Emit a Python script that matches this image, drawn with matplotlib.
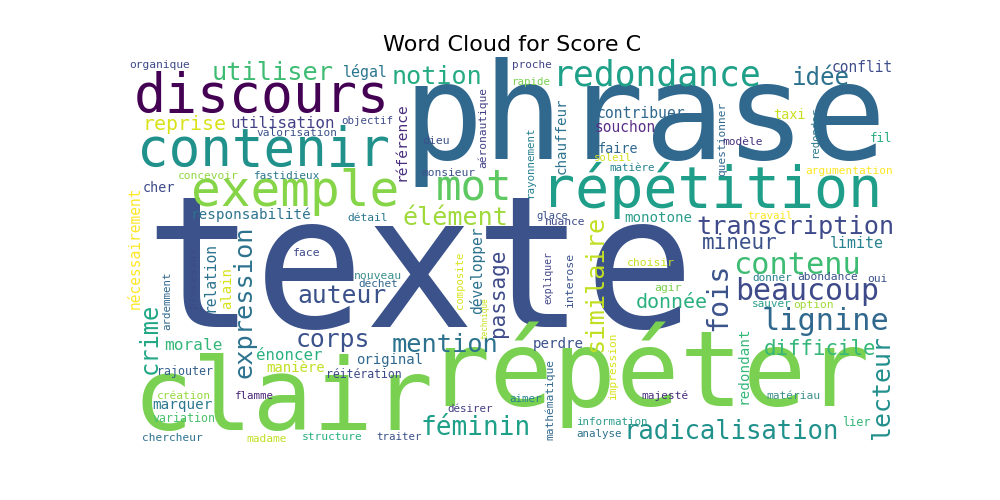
import matplotlib
matplotlib.use("Agg")
import matplotlib.pyplot as plt

# word cloud data: word and weight (text extent in pixels of the original render)
words = ["texte", "phrase", "répéter", "clair", "discours", "contenir", "exemple", "répétition",
         "mot", "redondance", "utiliser", "notion", "idée", "légal", "conflit", "organique",
         "reprise", "utilisation", "objectif", "valorisation", "référence", "dieu", "aéronautique",
         "monsieur", "concevoir", "fastidieux", "cher", "proche", "rapide", "chauffeur",
         "rayonnement", "contribuer", "souchon", "faire", "soleil", "matière", "questionner",
         "modèle", "taxi", "redonder", "fil", "argumentation",
         "responsabilité", "détail", "élément", "expression", "crime", "nécessairement",
         "ardemment", "processus", "relation", "alain", "face", "nouveau", "déchet", "auteur",
         "corps", "morale", "mention", "énoncer", "manière", "original", "rajouter",
         "réitération", "marquer", "création", "variation", "flamme", "chercheur", "madame",
         "structure", "traiter", "désirer", "féminin", "passage", "développer", "composite",
         "technique",
         "glace", "nuance", "monotone", "travail", "transcription", "mineur", "limite", "contenu",
         "choisir", "similaire", "fois", "beaucoup", "donnée", "donner", "abondance", "oui",
         "agir", "sauver", "option", "expliquer", "interose", "lignine", "perdre", "difficile",
         "lecteur", "redondant", "impression", "mathématique", "aimer", "majesté", "matériau",
         "information", "analyse", "lier", "radicalisation"]
extent = [540, 475, 435, 295, 251, 248, 204, 335,
          75, 205, 120, 89, 57, 44, 60, 60,
          82, 103, 51, 79, 77, 27, 80,
          53, 60, 65, 32, 39, 38, 75,
          71, 87, 60, 40, 37, 45, 72,
          40, 32, 50, 22, 85,
          118, 40, 104, 150, 70, 120,
          58, 60, 69, 41, 27, 47, 39, 87,
          73, 57, 105, 65, 58, 66, 55,
          75, 59, 53, 62, 38, 59, 40,
          60, 45, 45, 108, 87, 86, 56,
          41,
          31, 40, 67, 45, 194, 74, 53, 125,
          47, 135, 67, 141, 71, 39, 60, 20,
          27, 39, 40, 52, 54, 125, 50, 110,
          103, 76, 66, 80, 32, 46, 53,
          71, 45, 28, 212]

# layout (centre x, centre y in pixels, vertical flag, colour)
layout = [(420, 275, 0, "#3b528b"), (645, 122, 0, "#31688e"), (648, 375, 0, "#7ad151"),
          (283, 402, 0, "#7ad151"), (262, 97, 0, "#440154"), (264, 151, 0, "#21918c"),
          (295, 192, 0, "#86d549"), (712, 190, 0, "#1f9e89"), (474, 187, 0, "#5ec962"),
          (657, 75, 0, "#1fa088"), (273, 73, 0, "#3fbc73"), (437, 77, 0, "#25ab82"),
          (821, 78, 0, "#2c728e"), (365, 72, 0, "#2a768e"), (862, 67, 0, "#3e4c8a"),
          (160, 65, 0, "#3e4a89"), (184, 125, 0, "#d8e219"), (283, 123, 0, "#423f85"),
          (367, 121, 0, "#3e4c8a"), (297, 133, 0, "#3b528b"), (402, 142, 1, "#472d7b"),
          (436, 141, 0, "#3b528b"), (483, 127, 1, "#424086"), (448, 173, 0, "#3b528b"),
          (208, 176, 0, "#90d743"), (287, 176, 0, "#2a788e"), (159, 188, 0, "#3e4a89"),
          (532, 65, 0, "#414487"), (531, 82, 0, "#7ad151"), (562, 136, 1, "#2c728e"),
          (530, 162, 1, "#26828e"), (641, 113, 0, "#31688e"), (625, 127, 0, "#5a2e87"),
          (618, 149, 0, "#31688e"), (613, 158, 0, "#d0e11c"), (632, 168, 0, "#26828e"),
          (722, 139, 1, "#31688e"), (743, 142, 0, "#46307e"), (789, 115, 0, "#c8e020"),
          (815, 133, 1, "#2a788e"), (881, 139, 0, "#29af7f"), (849, 171, 0, "#fde725"),
          (251, 215, 0, "#2c728e"), (368, 218, 0, "#2a788e"), (455, 218, 0, "#9fda3a"),
          (245, 302, 1, "#2c728e"), (150, 338, 1, "#22a785"), (135, 248, 1, "#fde725"),
          (167, 301, 1, "#31688e"), (193, 278, 1, "#3e4a89"), (210, 277, 1, "#2c728e"),
          (227, 288, 1, "#d8e219"), (307, 253, 0, "#3e4a89"), (378, 276, 0, "#3b8f8c"),
          (378, 284, 0, "#31688e"), (342, 296, 0, "#3b528b"), (333, 340, 0, "#3b528b"),
          (193, 345, 0, "#35b779"), (445, 345, 0, "#2c728e"), (289, 355, 0, "#2ab07f"),
          (296, 368, 0, "#c2df23"), (390, 360, 0, "#31688e"), (185, 372, 0, "#35608d"),
          (364, 374, 0, "#3e4a89"), (182, 405, 0, "#2a788e"), (184, 396, 0, "#95d840"),
          (184, 418, 0, "#4ac16d"), (254, 396, 0, "#482475"), (172, 438, 0, "#2c728e"),
          (267, 439, 0, "#c2df23"), (332, 437, 0, "#2ab07f"), (399, 437, 0, "#3b528b"),
          (470, 409, 0, "#433e85"), (476, 428, 0, "#1fa088"), (498, 293, 1, "#3e4a89"),
          (477, 270, 1, "#2c728e"), (460, 280, 1, "#d8e219"), (485, 318, 1, "#c8e020"),
          (552, 216, 0, "#3b528b"), (565, 222, 0, "#3e4a89"), (658, 218, 0, "#2a9d8a"),
          (770, 216, 0, "#fde725"), (795, 227, 0, "#3e4a89"), (740, 243, 0, "#3b528b"),
          (857, 243, 0, "#26828e"), (797, 265, 0, "#3fbc73"), (651, 263, 0, "#c8e020"),
          (595, 283, 1, "#c2df23"), (718, 297, 1, "#3b528b"), (807, 292, 0, "#3e4a89"),
          (672, 302, 0, "#2ab07f"), (772, 278, 0, "#26828e"), (828, 277, 0, "#3b528b"),
          (877, 279, 0, "#3b528b"), (668, 288, 0, "#7ad151"), (772, 304, 0, "#2a9d8a"),
          (813, 305, 0, "#a0da39"), (548, 278, 1, "#414487"), (570, 280, 1, "#3b528b"),
          (825, 322, 0, "#31688e"), (558, 344, 0, "#3b528b"), (820, 349, 0, "#35b779"),
          (882, 388, 1, "#218f8d"), (743, 365, 1, "#35b779"), (613, 365, 1, "#d8e219"),
          (550, 400, 1, "#31688e"), (526, 399, 0, "#26828e"), (665, 396, 0, "#472d7b"),
          (793, 396, 0, "#3b8f8c"), (612, 422, 0, "#2a9d8a"), (599, 434, 0, "#2c728e"),
          (856, 423, 0, "#35b779"), (731, 432, 0, "#21918c")]

fig = plt.figure(figsize=(10, 5), dpi=100)
ax = fig.add_axes([0, 0, 1, 1])
ax.set_xlim(0, 1000)
ax.set_ylim(500, 0)
ax.axis("off")

for w, ext, (x, y, vert, col) in zip(words, extent, layout):
    em = ext / (len(w) * 0.602) * 1.02
    ax.text(x, y, w, fontsize=em * 0.72, family="DejaVu Sans Mono", color=col,
            ha="center", va="center", rotation=90 if vert else 0)

ax.text(512, 45, "Word Cloud for Score C", fontsize=16, ha="center", va="center")

fig.savefig("out.png", dpi=100)
